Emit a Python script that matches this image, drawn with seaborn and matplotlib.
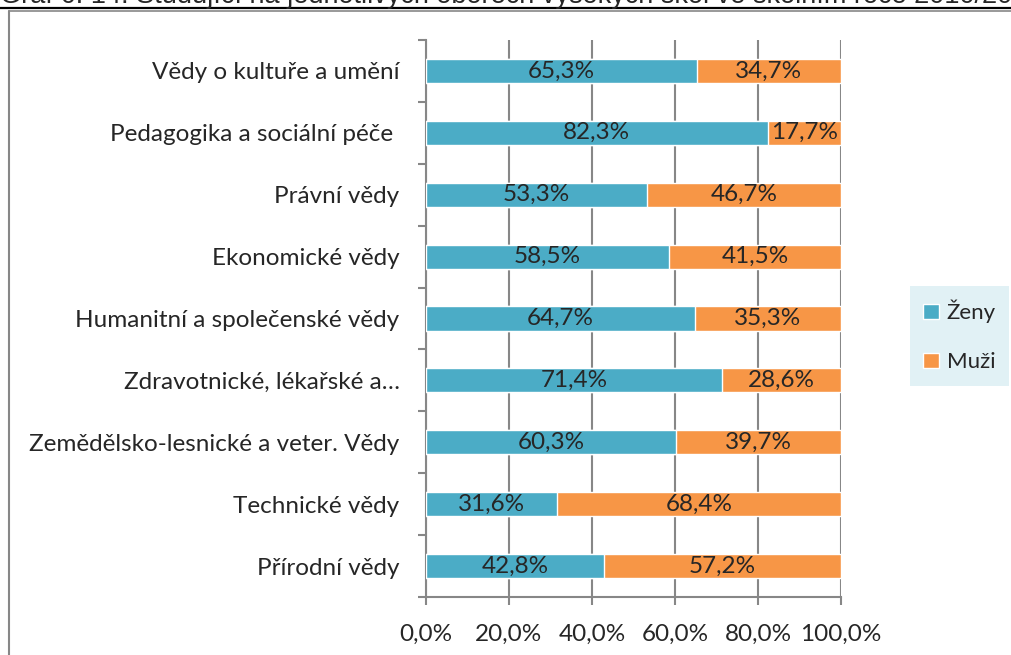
import numpy as np
import pandas as pd
import seaborn as sns
import matplotlib.pyplot as plt
from matplotlib.lines import Line2D
from matplotlib.patches import Patch
from matplotlib.ticker import FixedLocator

# -----------------------------------
# Data
# -----------------------------------

obory = [
    "Vědy o kultuře a umění",
    "Pedagogika a sociální péče ",
    "Právní vědy",
    "Ekonomické vědy",
    "Humanitní a společenské vědy",
    "Zdravotnické, lékařské a…",
    "Zemědělsko-lesnické a veter. Vědy",
    "Technické vědy",
    "Přírodní vědy",
]

zeny = [65.3, 82.3, 53.3, 58.5, 64.7, 71.4, 60.3, 31.6, 42.8]
muzi = [34.7, 17.7, 46.7, 41.5, 35.3, 28.6, 39.7, 68.4, 57.2]

x_ticks = [0, 20, 40, 60, 80, 100]
x_labels = ["0,0%", "20,0%", "40,0%", "60,0%", "80,0%", "100,0%"]

title = "Graf 6. 14: Studující na jednotlivých oborech vysokých škol ve školním roce 2010/2011"

c_zeny = "#4BACC6"
c_muzi = "#F79646"
grid_c = "#878787"

df = pd.DataFrame({"obor": obory, "Ženy": zeny, "Muži": muzi})
df["celkem"] = df["Ženy"] + df["Muži"]

# -----------------------------------
# Figure
# -----------------------------------

sns.set_style("white")
plt.rcParams["font.family"] = ["Lato", "DejaVu Sans"]

fs = 17.5

fig = plt.figure(figsize=(10.12, 6.55), dpi=100)
ax = fig.add_axes([426 / 1012, 1 - 597 / 655, 415 / 1012, 557 / 655])

# orange full bars underneath, teal on top -> stacked look
sns.barplot(data=df, x="celkem", y="obor", orient="h", color=c_muzi,
            width=0.39, saturation=1, ax=ax, zorder=3)
sns.barplot(data=df, x="Ženy", y="obor", orient="h", color=c_zeny,
            width=0.39, saturation=1, ax=ax, zorder=3)

for i, (z, m) in enumerate(zip(zeny, muzi)):
    ax.text(z / 2, i, f"{z:.1f}%".replace(".", ","), ha="center",
            va="center", fontsize=fs, zorder=4)
    ax.text(z + m / 2, i, f"{m:.1f}%".replace(".", ","), ha="center",
            va="center", fontsize=fs, zorder=4)

ax.set_xlim(0, 100)
ax.set_ylim(len(obory) - 0.5, -0.5)
ax.set_xlabel("")
ax.set_ylabel("")

ax.set_xticks(x_ticks)
ax.set_xticklabels(x_labels, fontsize=fs)
ax.xaxis.grid(True, color=grid_c, linewidth=1.5, zorder=0)
ax.set_axisbelow(True)

ax.yaxis.set_minor_locator(FixedLocator(np.arange(-0.5, len(obory), 1)))
ax.tick_params(axis="y", which="major", length=0, pad=19, labelsize=fs)
ax.tick_params(axis="y", which="minor", left=True, length=6,
               width=1.5, color=grid_c)
ax.tick_params(axis="x", bottom=True, length=6, width=1.5,
               color=grid_c, pad=13)

for s in ["top", "right"]:
    ax.spines[s].set_visible(False)
for s in ["left", "bottom"]:
    ax.spines[s].set_color(grid_c)
    ax.spines[s].set_linewidth(1.5)

# -----------------------------------
# Legend
# -----------------------------------

handles = [Patch(facecolor=c_zeny), Patch(facecolor=c_muzi)]
leg = fig.legend(handles, ["Ženy", "Muži"], loc="center right",
                 bbox_to_anchor=(1009 / 1012, 1 - 336 / 655),
                 fontsize=16, frameon=True, fancybox=False,
                 handlelength=0.7, handleheight=0.7, handletextpad=0.35,
                 labelspacing=1.3, borderpad=0.6, borderaxespad=0)
leg.get_frame().set_facecolor("#DAEEF3")
leg.get_frame().set_edgecolor("none")

# -----------------------------------
# Cut-off caption and frame (as in source document)
# -----------------------------------

fig.text(0.0, 1 - 3 / 655, title, fontsize=19.5,
         family=["Liberation Sans", "DejaVu Sans"], va="baseline", ha="left")
fig.add_artist(Line2D([0, 1], [1 - 7.5 / 655] * 2, color="black",
                      linewidth=1.6, transform=fig.transFigure))
fig.add_artist(Line2D([9.5 / 1012, 1], [1 - 10.5 / 655] * 2,
                      color=grid_c, linewidth=1.2, transform=fig.transFigure))
fig.add_artist(Line2D([9.5 / 1012] * 2, [0, 1 - 10.5 / 655],
                      color=grid_c, linewidth=1.5, transform=fig.transFigure))

plt.savefig("out.png", dpi=100)
